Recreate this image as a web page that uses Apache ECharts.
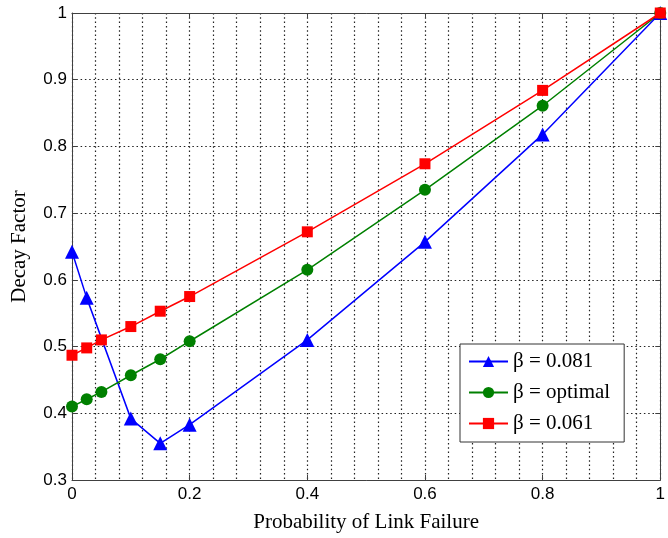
<!DOCTYPE html>
<html><head><meta charset="utf-8">
<script src="https://cdn.jsdelivr.net/npm/echarts@6/dist/echarts.min.js"></script>
<style>html,body{margin:0;padding:0;background:#fff}#c{width:668px;height:538px}</style>
</head><body><div id="c"></div>
<script>
const xValues = [0, 0.025, 0.05, 0.1, 0.15, 0.2, 0.4, 0.6, 0.8, 1];
const blueValues = [0.642, 0.573, null, 0.392, 0.355, 0.383, 0.510, 0.657, 0.818, 1];
const greenValues = [0.410, 0.421, 0.432, 0.457, 0.481, 0.508, 0.615, 0.735, 0.861, 1];
const redValues = [0.487, 0.498, 0.510, 0.530, 0.553, 0.575, 0.672, 0.774, 0.884, 1];
const seriesNames = ['β = 0.081', 'β = optimal', 'β = 0.061'];
const xTickLabels = ['0', '0.2', '0.4', '0.6', '0.8', '1'];
const yTickLabels = ['0.3', '0.4', '0.5', '0.6', '0.7', '0.8', '0.9', '1'];

function pairs(vals){ return xValues.map((x,i)=>[x, vals[i]]); }
const chart = echarts.init(document.getElementById('c'), null, {renderer:'canvas'});
const dotted = {color:'#222', width:1.2, type:[1.5,2.8]};
const serif = 'Liberation Serif, Times New Roman, serif';
const tickFont = {fontFamily:'Liberation Sans, Arial, sans-serif', fontSize:17, color:'#000'};
chart.setOption({
  animation:false,
  backgroundColor:'#fff',
  grid:{left:72, right:3, top:13, bottom:55, containLabel:false},
  legend:{
    orient:'vertical', left:460, top:344,
    backgroundColor:'#fff', borderColor:'#333', borderWidth:1,
    padding:[7,14,8,8], itemGap:10, itemWidth:39, itemHeight:14,
    textStyle:{fontFamily:serif, fontSize:21, lineHeight:21, color:'#000'},
    data:seriesNames
  },
  xAxis:[{
    type:'value', min:0, max:1, interval:0.2, position:'bottom',
    name:'Probability of Link Failure', nameLocation:'middle', nameGap:32,
    nameTextStyle:{fontFamily:serif, fontSize:21, color:'#000'},
    axisLine:{show:true, onZero:false, lineStyle:{color:'#404040', width:1}},
    axisTick:{show:true, inside:true, length:5, lineStyle:{color:'#404040'}},
    axisLabel:Object.assign({margin:6, formatter:v=>xTickLabels[Math.round(v/0.2)]}, tickFont),
    splitLine:{show:true, lineStyle:dotted},
    minorTick:{show:false, splitNumber:5},
    minorSplitLine:{show:true, lineStyle:dotted}
  },{
    type:'value', min:0, max:1, interval:0.2, position:'top',
    axisLine:{show:true, onZero:false, lineStyle:{color:'#404040', width:1}},
    axisTick:{show:true, inside:true, length:5, lineStyle:{color:'#404040'}},
    axisLabel:{show:false}, splitLine:{show:false}
  }],
  yAxis:[{
    type:'value', min:0.3, max:1, interval:0.1, position:'left',
    name:'Decay Factor', nameLocation:'middle', nameGap:42,
    nameTextStyle:{fontFamily:serif, fontSize:21, color:'#000'},
    axisLine:{show:true, onZero:false, lineStyle:{color:'#404040', width:1}},
    axisTick:{show:true, inside:true, length:5, lineStyle:{color:'#404040'}},
    axisLabel:Object.assign({margin:5, formatter:v=>yTickLabels[Math.round((v-0.3)/0.1)]}, tickFont),
    splitLine:{show:true, lineStyle:dotted}
  },{
    type:'value', min:0.3, max:1, interval:0.1, position:'right',
    axisLine:{show:true, onZero:false, lineStyle:{color:'#404040', width:1}},
    axisTick:{show:true, inside:true, length:5, lineStyle:{color:'#404040'}},
    axisLabel:{show:false}, splitLine:{show:false}
  }],
  series:[
    {name:seriesNames[0], type:'line', data:pairs(blueValues), connectNulls:true, symbol:'triangle', symbolSize:14,
     itemStyle:{color:'#0000ff'}, lineStyle:{color:'#0000ff', width:1.5}, z:2},
    {name:seriesNames[1], type:'line', data:pairs(greenValues), symbol:'circle', symbolSize:12,
     itemStyle:{color:'#008000'}, lineStyle:{color:'#008000', width:1.5}, z:3},
    {name:seriesNames[2], type:'line', data:pairs(redValues), symbol:'rect', symbolSize:11,
     itemStyle:{color:'#ff0000'}, lineStyle:{color:'#ff0000', width:1.5}, z:4}
  ]
});
</script></body></html>
